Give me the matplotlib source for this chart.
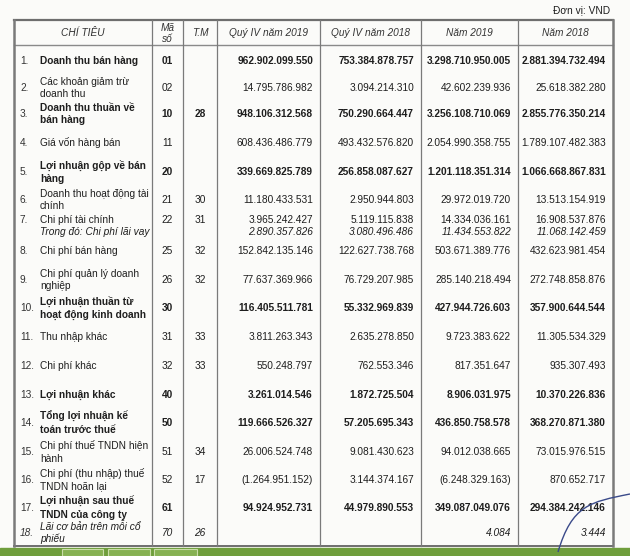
import matplotlib.pyplot as plt
from matplotlib.patches import Rectangle, PathPatch
from matplotlib.path import Path

plt.rcParams['font.family'] = ['Liberation Sans', 'DejaVu Sans']

######## Data
nums = ["1.", "2.", "3.", "4.", "5.", "6.", "7.", "8.", "9.", "10.",
        "11.", "12.", "13.", "14.", "15.", "16.", "17.", "18."]
labels = ["Doanh thu bán hàng",
          "Các khoản giảm trừ\ndoanh thu",
          "Doanh thu thuần về\nbán hàng",
          "Giá vốn hàng bán",
          "Lợi nhuận gộp về bán\nhàng",
          "Doanh thu hoạt động tài\nchính",
          "Chi phí tài chính",
          "Chi phí bán hàng",
          "Chi phí quản lý doanh\nnghiệp",
          "Lợi nhuận thuần từ\nhoạt động kinh doanh",
          "Thu nhập khác",
          "Chi phí khác",
          "Lợi nhuận khác",
          "Tổng lợi nhuận kế\ntoán trước thuế",
          "Chi phí thuế TNDN hiện\nhành",
          "Chi phí (thu nhập) thuế\nTNDN hoãn lại",
          "Lợi nhuận sau thuế\nTNDN của công ty",
          "Lãi cơ bản trên mỗi cổ\nphiếu"]
codes = ["01", "02", "10", "11", "20", "21", "22", "25", "26", "30",
         "31", "32", "40", "50", "51", "52", "61", "70"]
notes = ["", "", "28", "", "", "30", "31", "32", "32", "",
         "33", "33", "", "", "34", "17", "", "26"]
q4_2019 = ["962.902.099.550", "14.795.786.982", "948.106.312.568", "608.436.486.779",
           "339.669.825.789", "11.180.433.531", "3.965.242.427", "152.842.135.146",
           "77.637.369.966", "116.405.511.781", "3.811.263.343", "550.248.797",
           "3.261.014.546", "119.666.526.327", "26.006.524.748", "(1.264.951.152)",
           "94.924.952.731", ""]
q4_2018 = ["753.384.878.757", "3.094.214.310", "750.290.664.447", "493.432.576.820",
           "256.858.087.627", "2.950.944.803", "5.119.115.838", "122.627.738.768",
           "76.729.207.985", "55.332.969.839", "2.635.278.850", "762.553.346",
           "1.872.725.504", "57.205.695.343", "9.081.430.623", "3.144.374.167",
           "44.979.890.553", ""]
y2019 = ["3.298.710.950.005", "42.602.239.936", "3.256.108.710.069", "2.054.990.358.755",
         "1.201.118.351.314", "29.972.019.720", "14.334.036.161", "503.671.389.776",
         "285.140.218.494", "427.944.726.603", "9.723.383.622", "817.351.647",
         "8.906.031.975", "436.850.758.578", "94.012.038.665", "(6.248.329.163)",
         "349.087.049.076", "4.084"]
y2018 = ["2.881.394.732.494", "25.618.382.280", "2.855.776.350.214", "1.789.107.482.383",
         "1.066.668.867.831", "13.513.154.919", "16.908.537.876", "432.623.981.454",
         "272.748.858.876", "357.900.644.544", "11.305.534.329", "935.307.493",
         "10.370.226.836", "368.270.871.380", "73.015.976.515", "870.652.717",
         "294.384.242.146", "3.444"]
sub_label = "Trong đó: Chi phí lãi vay"
sub_values = ["2.890.357.826", "3.080.496.486", "11.434.553.822", "11.068.142.459"]
headers = ["CHÍ TIÊU", "Mã\nsố", "T.M", "Quý IV năm 2019", "Quý IV năm 2018", "Năm 2019", "Năm 2018"]
bold_rows = [0, 2, 4, 9, 12, 13, 16]
italic_rows = [17]
sub_row = 6

######## Layout (pixels)
W, H = 630, 556
col_x = [14, 152, 183, 217, 320, 421, 518, 613]
top, head_bot, bottom = 20, 45, 546
row_y = [61, 88, 114, 143, 172, 200, 220, 251, 280, 308, 337, 366, 395, 423, 452, 480, 508, 533]
fs = 7.3
txt = "#1e1e1e"

fig = plt.figure(figsize=(W / 100, H / 100), dpi=100)
fig.patch.set_facecolor("#fbfbf9")
ax = fig.add_axes([0, 0, 1, 1])
ax.set_xlim(0, W)
ax.set_ylim(H, 0)
ax.axis("off")

# grid lines
ax.plot([col_x[0], col_x[-1]], [top, top], color="#6e6e6e", lw=1.6)
ax.plot([col_x[0], col_x[-1]], [head_bot, head_bot], color="#8a8a8a", lw=1.0)
ax.plot([col_x[0], col_x[-1]], [bottom, bottom], color="#6e6e6e", lw=1.4)
for i, x in enumerate(col_x):
    lw = 1.8 if i in (0, len(col_x) - 1) else 0.9
    ax.plot([x, x], [top, bottom], color="#7a7a7a", lw=lw)

ax.text(610, 10, "Đơn vị: VND", ha="right", va="center", fontsize=fs, color=txt)

# header
for i, h in enumerate(headers):
    cx = (col_x[i] + col_x[i + 1]) / 2
    ax.text(cx, (top + head_bot) / 2 + 1, h, ha="center", va="center", fontsize=fs,
            style="italic", color="#333333", linespacing=1.1)

# body
for i in range(len(labels)):
    y = row_y[i]
    weight = "bold" if i in bold_rows else "normal"
    style = "italic" if i in italic_rows else "normal"
    kw = dict(fontsize=fs, fontweight=weight, style=style, color=txt, va="center")
    ax.text(20, y, nums[i], ha="left", fontsize=fs, style=style, color="#333333", va="center")
    ax.text(40, y, labels[i], ha="left", linespacing=1.28, **kw)
    ax.text((col_x[1] + col_x[2]) / 2, y, codes[i], ha="center", **kw)
    ax.text((col_x[2] + col_x[3]) / 2, y, notes[i], ha="center", **kw)
    for j, col in enumerate([q4_2019, q4_2018, y2019, y2018]):
        ax.text(col_x[4 + j] - 7, y, col[i], ha="right", **kw)
    if i == sub_row:
        ys = y + 12
        ax.text(40, ys, sub_label, ha="left", va="center", fontsize=fs, style="italic", color=txt)
        for j, v in enumerate(sub_values):
            ax.text(col_x[4 + j] - 7, ys, v, ha="right", va="center", fontsize=fs,
                    style="italic", color=txt)

# green strip at bottom
ax.add_patch(Rectangle((0, 548), W, 8, color="#6f9e3c", zorder=1))
for x0, x1 in [(62, 103), (108, 150), (154, 197)]:
    ax.add_patch(Rectangle((x0, 549), x1 - x0, 7, facecolor="#86b152",
                           edgecolor="#c9dca8", lw=0.8, zorder=2))

# pen stroke
verts = [(558, 552), (572, 505), (590, 502), (630, 494)]
ax.add_patch(PathPatch(Path(verts, [Path.MOVETO, Path.CURVE4, Path.CURVE4, Path.CURVE4]),
                       facecolor="none", edgecolor="#3a4a8a", lw=1.0, zorder=3))

fig.savefig("out.png", dpi=100, facecolor=fig.get_facecolor())
